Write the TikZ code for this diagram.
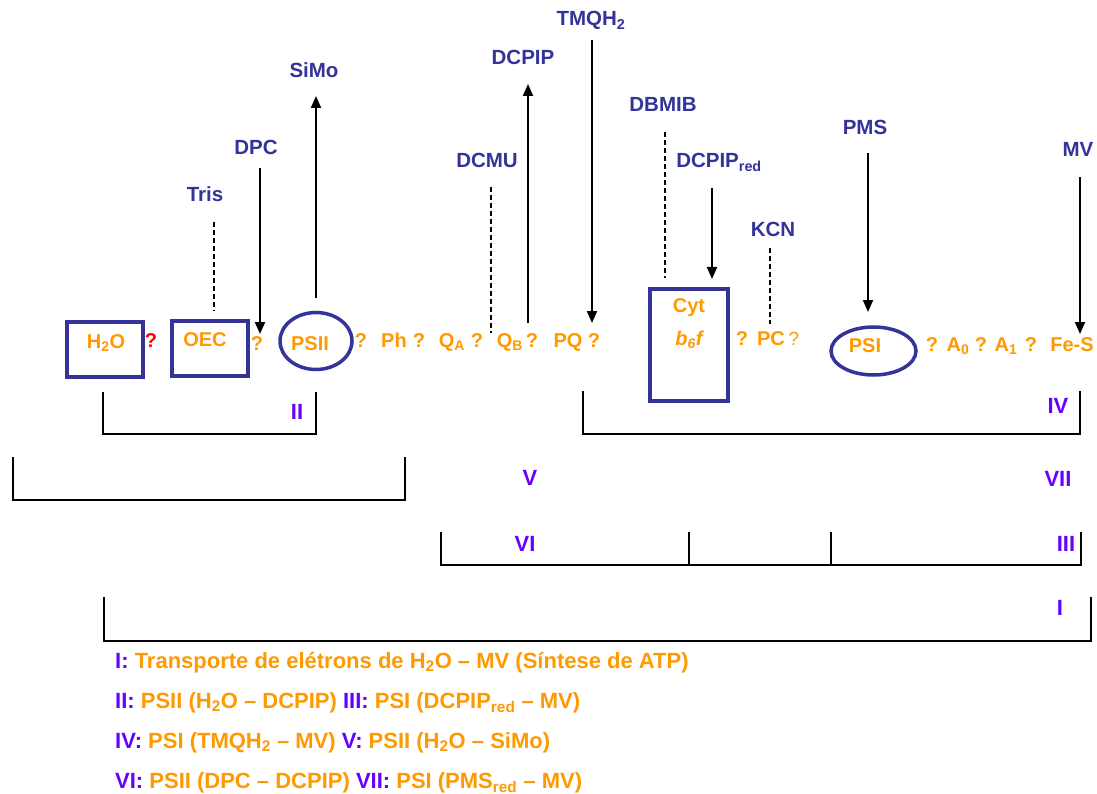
\documentclass[tikz,border=0pt]{standalone}
\usepackage{fontspec}
\setmainfont{Liberation Sans}
\usetikzlibrary{arrows.meta,shapes.geometric}
\definecolor{navy}{RGB}{51,51,153}
\definecolor{orng}{RGB}{255,153,0}
\definecolor{viol}{RGB}{102,0,255}
\definecolor{rd}{RGB}{255,0,0}
\begin{document}
\begin{tikzpicture}[x=1pt,y=-1pt,
  reag/.style={text=navy,font=\fontsize{20.5}{24}\selectfont\bfseries,anchor=base,inner sep=0pt},
  chain/.style={text=orng,font=\fontsize{20}{24}\selectfont\bfseries,anchor=base,inner sep=0pt},
  num/.style={text=viol,font=\fontsize{22}{26}\selectfont\bfseries,anchor=base,inner sep=0pt},
  leg/.style={text=orng,font=\fontsize{22}{26}\selectfont\bfseries,anchor=base west,inner sep=0pt},
  arr/.style={-{Triangle[length=12pt,width=10pt]},line width=2pt},
  inhib/.style={dash pattern=on 5pt off 3pt,line width=2pt},
  brk/.style={line width=2pt},
  boxs/.style={draw=navy,line width=3.5pt,inner sep=0pt}]
\path[use as bounding box] (0,0) rectangle (1097,794);
% boxes and ellipses
\node[boxs,minimum width=76pt,minimum height=55pt] (h2obox) at (105,349.5) {};
\node[boxs,minimum width=76pt,minimum height=55pt] (oecbox) at (210,348.5) {};
\node[boxs,minimum width=78pt,minimum height=112pt] (cytbox) at (689,345) {};
\node[boxs,ellipse,minimum width=72pt,minimum height=57pt] (psiiell) at (316,341) {};
\node[boxs,ellipse,minimum width=85pt,minimum height=48pt] (psiell) at (873.5,351) {};
% chain labels
\node[chain] (h2o) at (106,348) {H\textsubscript{2}O};
\node[chain,text=rd] (q1) at (151,347) {?};
\node[chain] (oec) at (205,346) {OEC};
\node[chain] (q2) at (257,350) {?};
\node[chain] (psii) at (310,350) {PSII};
\node[chain] (q3) at (361,347) {?};
\node[chain] (ph) at (394,347) {Ph};
\node[chain] (q4) at (419,347) {?};
\node[chain] (qa) at (452,347) {Q\textsubscript{A}};
\node[chain] (q5) at (477,347) {?};
\node[chain] (qb) at (510,347) {Q\textsubscript{B}};
\node[chain] (q6) at (532,347) {?};
\node[chain] (pq) at (568,347) {PQ};
\node[chain] (q7) at (594,347) {?};
\node[chain] (cyt) at (689,312) {Cyt};
\node[chain] (b6f) at (689,345) {\itshape b\textsubscript{6}f};
\node[chain] (q8) at (742,345) {?};
\node[chain] (pc) at (771,345) {PC};
\node[chain,font=\fontsize{19}{24}\selectfont] (q9) at (794,345) {?};
\node[chain] (psi) at (865,352) {PSI};
\node[chain] (q10) at (932,351) {?};
\node[chain] (a0) at (958,351) {A\textsubscript{0}};
\node[chain] (q11) at (981,351) {?};
\node[chain] (a1) at (1006,351) {A\textsubscript{1}};
\node[chain] (q12) at (1031,351) {?};
\node[chain] (fes) at (1072,351) {Fe-S};
% reagent labels
\node[reag] (simo) at (314,78) {SiMo};
\node[reag] (dpc) at (256,155) {DPC};
\node[reag] (tris) at (205,202) {Tris};
\node[reag] (dcmu) at (487,168) {DCMU};
\node[reag] (dcpip) at (523,65) {DCPIP};
\node[reag] (tmqh) at (591,26) {TMQH\textsubscript{2}};
\node[reag] (dbmib) at (663,112) {DBMIB};
\node[reag] (dcpipr) at (719,168) {DCPIP\textsubscript{red}};
\node[reag] (kcn) at (773,237) {KCN};
\node[reag] (pms) at (865,135) {PMS};
\node[reag] (mv) at (1078,157) {MV};
% connector end points
\coordinate (dpcS) at (260,168);  \coordinate (dpcE) at (260,334);
\coordinate (simoS) at (316,298); \coordinate (simoE) at (316,96);
\coordinate (dcpS) at (528,323);  \coordinate (dcpE) at (528,84);
\coordinate (tmqS) at (592,40);   \coordinate (tmqE) at (592,323);
\coordinate (dcrS) at (712,188);  \coordinate (dcrE) at (712,279);
\coordinate (pmsS) at (868,153);  \coordinate (pmsE) at (868,312);
\coordinate (mvS) at (1080,177);  \coordinate (mvE) at (1080,334);
\coordinate (trisS) at (214,222); \coordinate (trisE) at (214,311);
\coordinate (dcmuS) at (491,187); \coordinate (dcmuE) at (491,333);
\coordinate (dbmS) at (665,132);  \coordinate (dbmE) at (665,278);
\coordinate (kcnS) at (770,248);  \coordinate (kcnE) at (770,324);
\draw[arr] (dpcS) -- (dpcE);
\draw[arr] (simoS) -- (simoE);
\draw[arr] (dcpS) -- (dcpE);
\draw[arr] (tmqS) -- (tmqE);
\draw[arr] (dcrS) -- (dcrE);
\draw[arr] (pmsS) -- (pmsE);
\draw[arr] (mvS) -- (mvE);
\draw[inhib] (trisS) -- (trisE);
\draw[inhib] (dcmuS) -- (dcmuE);
\draw[inhib] (dbmS) -- (dbmE);
\draw[inhib] (kcnS) -- (kcnE);
% brackets
\draw[brk] (103,392) -- (103,434) -- (316,434) -- (316,392);
\draw[brk] (583,391) -- (583,434) -- (1080,434) -- (1080,391);
\draw[brk] (13,457) -- (13,500) -- (405,500) -- (405,457);
\draw[brk] (441,532) -- (441,565) -- (1081,565) -- (1081,532);
\draw[brk] (689,532) -- (689,565);
\draw[brk] (831,532) -- (831,565);
\draw[brk] (104,597) -- (104,641) -- (1091,641) -- (1091,597);
% numerals
\node[num] (nII) at (297,419) {II};
\node[num] (nIV) at (1058,413) {IV};
\node[num] (nV) at (530,485) {V};
\node[num] (nVII) at (1058,486) {VII};
\node[num] (nVI) at (525,551) {VI};
\node[num] (nIII) at (1066,551) {III};
\node[num] (nI) at (1060,615) {I};
% legend
\node[leg] (leg1) at (115,668) {\textcolor{viol}{I:} Transporte de elétrons de H\textsubscript{2}O – MV (Síntese de ATP)};
\node[leg] (leg2) at (115,708) {\textcolor{viol}{II:} PSII (H\textsubscript{2}O – DCPIP) \textcolor{viol}{III:} PSI (DCPIP\textsubscript{red} – MV)};
\node[leg] (leg3) at (115,748) {\textcolor{viol}{IV:} PSI (TMQH\textsubscript{2} – MV) \textcolor{viol}{V:} PSII (H\textsubscript{2}O – SiMo)};
\node[leg] (leg4) at (115,788) {\textcolor{viol}{VI:} PSII (DPC – DCPIP) \textcolor{viol}{VII:} PSI (PMS\textsubscript{red} – MV)};
\end{tikzpicture}
\end{document}
